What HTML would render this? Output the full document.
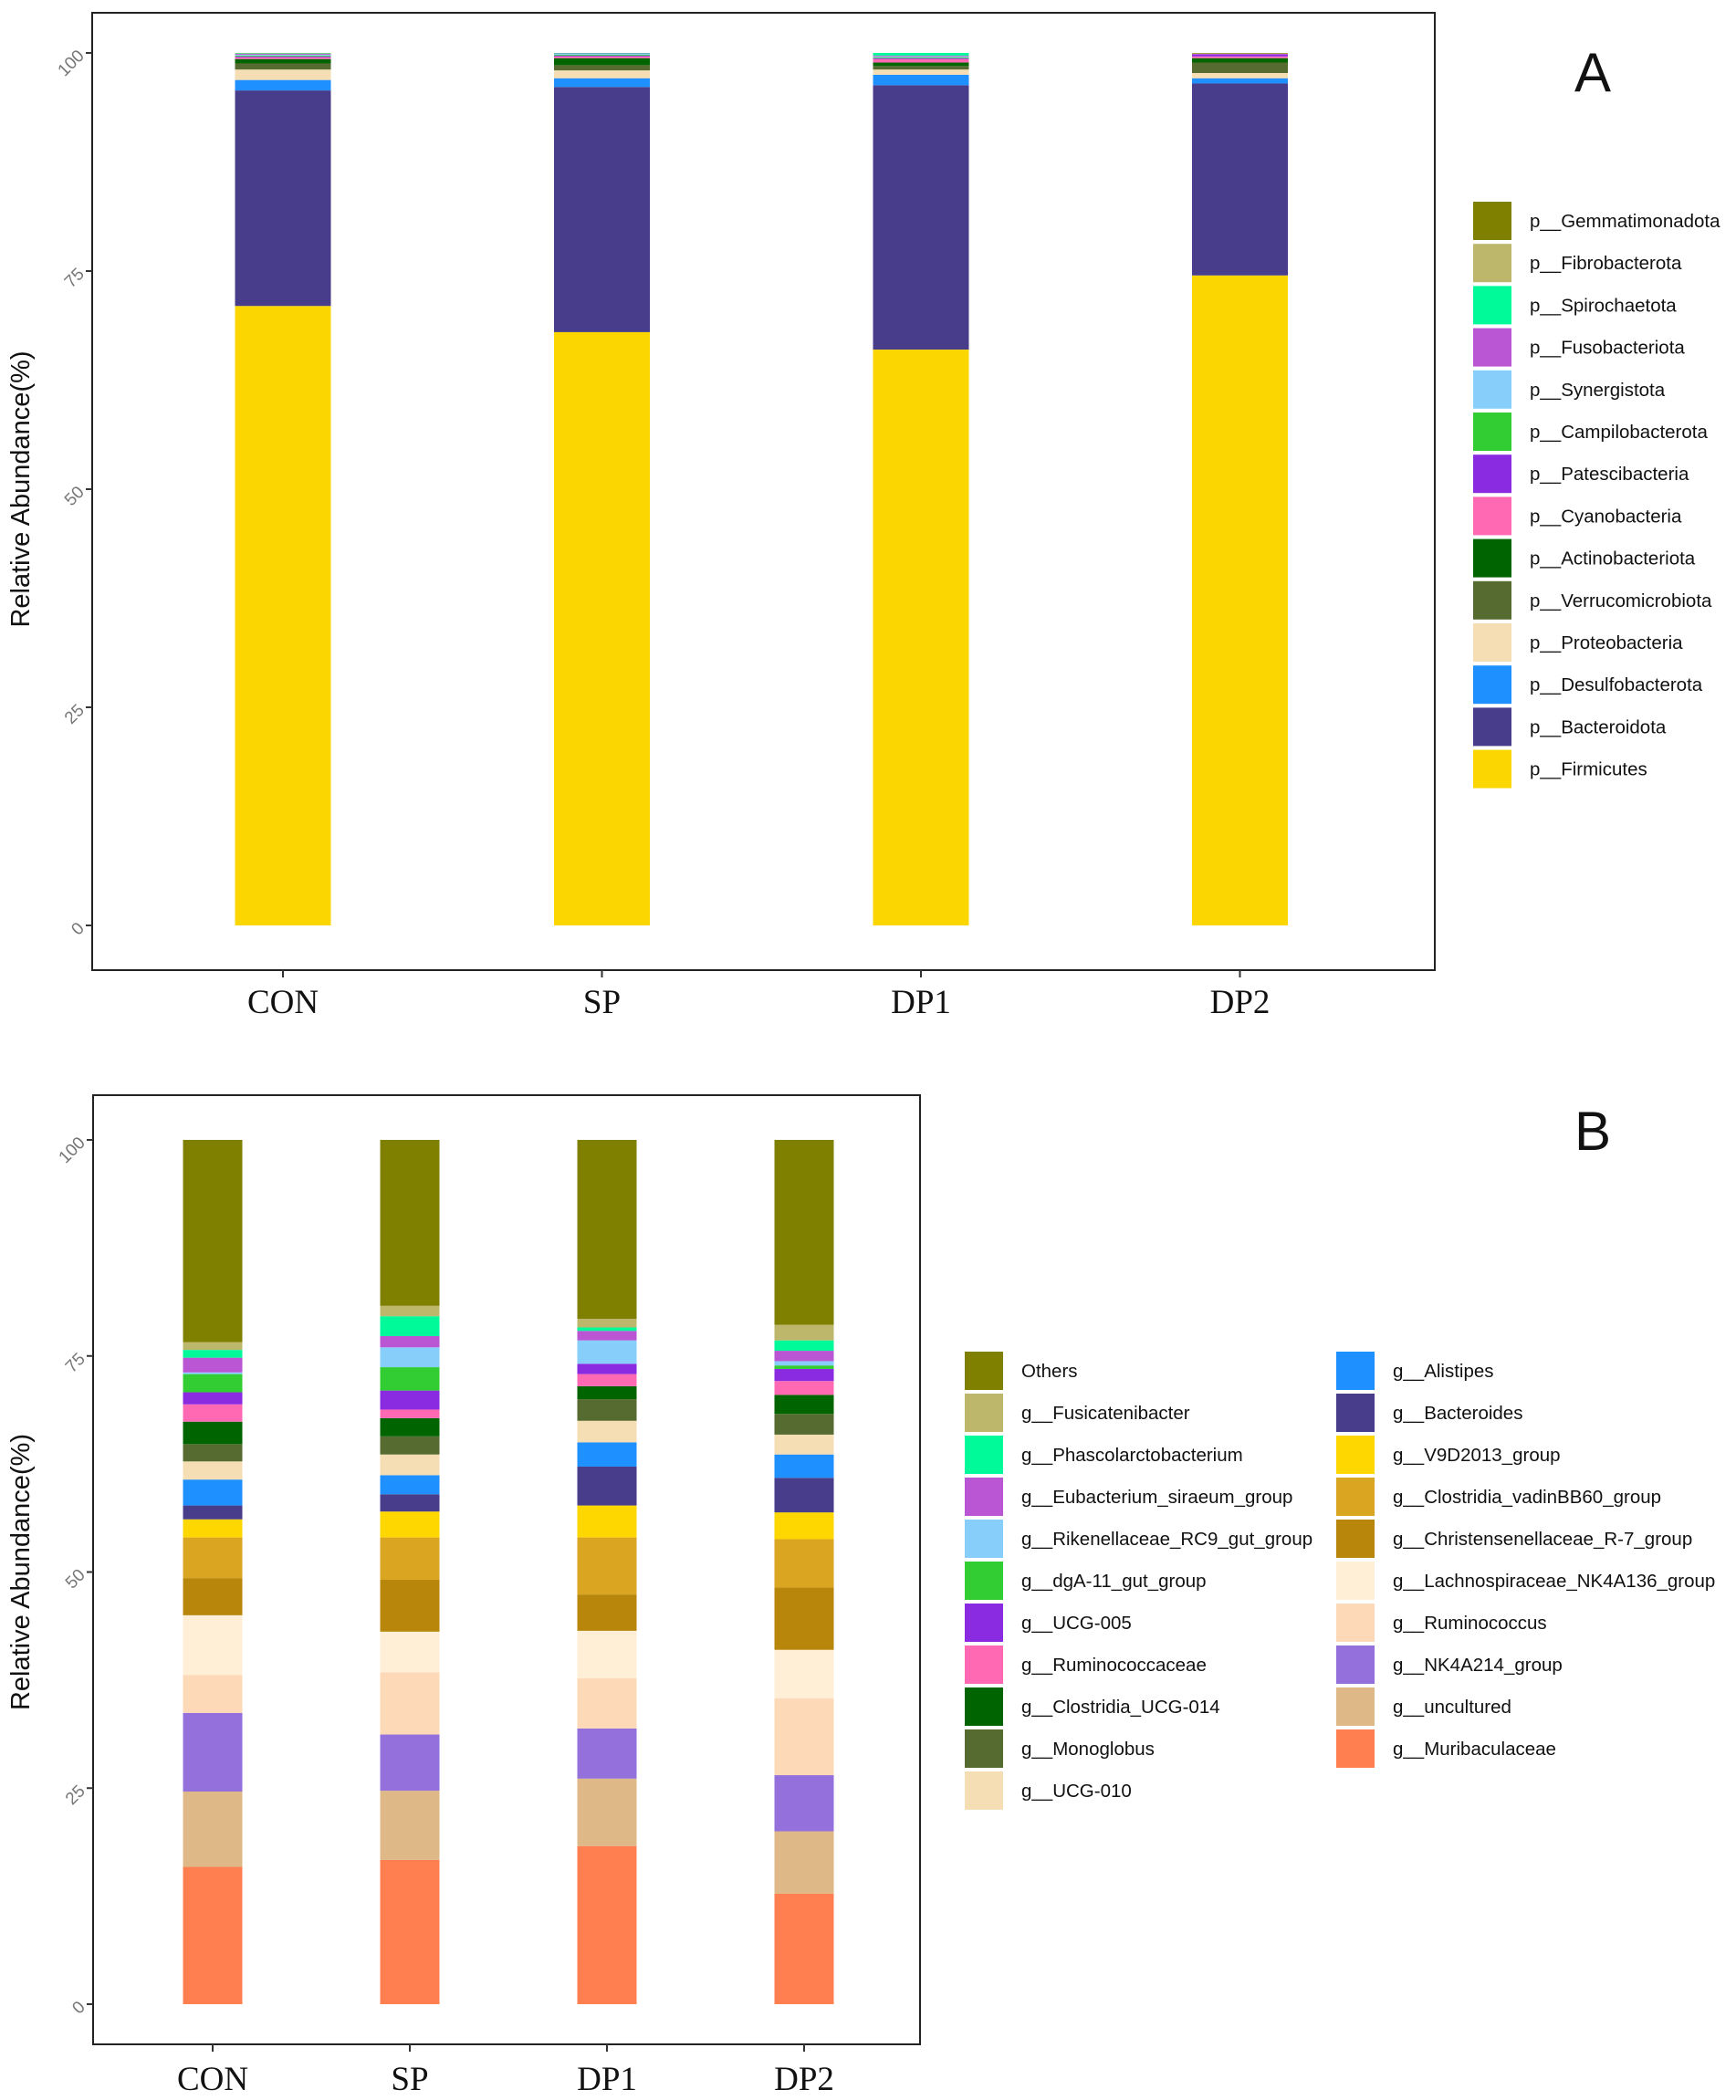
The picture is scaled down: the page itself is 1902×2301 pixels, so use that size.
<!DOCTYPE html>
<html><head><meta charset="utf-8"><style>
html,body{margin:0;padding:0;background:#fff;}
svg{display:block;}
</style></head><body>
<svg id="chart" width="1902" height="2301" xmlns="http://www.w3.org/2000/svg" font-family="Liberation Sans, sans-serif"></svg>
<script>
const groups = ["CON","SP","DP1","DP2"];
const phylaNames = ["p__Firmicutes","p__Bacteroidota","p__Desulfobacterota","p__Proteobacteria","p__Verrucomicrobiota","p__Actinobacteriota","p__Cyanobacteria","p__Patescibacteria","p__Campilobacterota","p__Synergistota","p__Fusobacteriota","p__Spirochaetota","p__Fibrobacterota","p__Gemmatimonadota"];
const phylaColors = ["#FCD600","#483D8B","#1E90FF","#F5DEB3","#556B2F","#006400","#FF69B4","#8A2BE2","#32CD32","#87CEFA","#BA55D3","#00FA9A","#BDB76B","#808000"];
const phylaCON = [71.0,24.7,1.2,1.2,0.7,0.5,0.2,0.1,0.1,0.1,0.1,0.05,0.03,0.02];
const phylaSP  = [68.0,28.1,1.0,0.9,0.6,0.8,0.2,0.1,0.1,0.1,0.05,0.05,0.0,0.0];
const phylaDP1 = [66.0,30.3,1.2,0.6,0.4,0.4,0.4,0.1,0.1,0.1,0.1,0.3,0.0,0.0];
const phylaDP2 = [74.5,22.0,0.6,0.6,1.2,0.5,0.2,0.2,0.0,0.0,0.1,0.0,0.05,0.05];
const phylaData = [phylaCON,phylaSP,phylaDP1,phylaDP2];

const genusNames = ["g__Muribaculaceae","g__uncultured","g__NK4A214_group","g__Ruminococcus","g__Lachnospiraceae_NK4A136_group","g__Christensenellaceae_R-7_group","g__Clostridia_vadinBB60_group","g__V9D2013_group","g__Bacteroides","g__Alistipes","g__UCG-010","g__Monoglobus","g__Clostridia_UCG-014","g__Ruminococcaceae","g__UCG-005","g__dgA-11_gut_group","g__Rikenellaceae_RC9_gut_group","g__Eubacterium_siraeum_group","g__Phascolarctobacterium","g__Fusicatenibacter","Others"];
const genusColors = ["#FF7F50","#DEB887","#9370DB","#FDD9B7","#FEEFD6","#B8860B","#DAA520","#FFD700","#483D8B","#1E90FF","#F5DEB3","#556B2F","#006400","#FF69B4","#8A2BE2","#32CD32","#87CEFA","#BA55D3","#00FA9A","#BDB76B","#808000"];
const genusCON = [15.9,8.7,9.1,4.4,6.9,4.3,4.7,2.1,1.6,3.0,2.1,2.0,2.6,2.0,1.4,2.1,0.2,1.7,0.9,0.9,23.4];
const genusSP  = [16.7,8.0,6.5,7.2,4.7,6.0,4.9,3.0,2.0,2.2,2.4,2.1,2.1,1.0,2.2,2.7,2.3,1.3,2.3,1.2,19.2];
const genusDP1 = [18.3,7.8,5.8,5.8,5.5,4.2,6.6,3.7,4.5,2.8,2.5,2.5,1.5,1.4,1.2,0.0,2.7,1.1,0.4,1.0,20.7];
const genusDP2 = [12.8,7.2,6.5,8.9,5.6,7.2,5.6,3.1,4.0,2.7,2.3,2.4,2.2,1.6,1.4,0.4,0.5,1.2,1.2,1.8,21.4];
const genusData = [genusCON,genusSP,genusDP1,genusDP2];
const yTicks = [0,25,50,75,100];

const NS="http://www.w3.org/2000/svg";
const svg=document.getElementById('chart');
function mk(tag,attrs,parent,text){const e=document.createElementNS(NS,tag);for(const k in attrs)e.setAttribute(k,attrs[k]);if(text!==undefined)e.textContent=text;(parent||svg).appendChild(e);return e;}

function panel(cfg){
  const g=mk('g',{});
  
  
  const y=v=>cfg.y0+(cfg.y100-cfg.y0)*v/100;
  const x=i=>cfg.xc[0]+i*cfg.step;
  const fr=mk('rect',{x:cfg.box[0],y:cfg.box[1],width:cfg.box[2]-cfg.box[0],height:cfg.box[3]-cfg.box[1],fill:'none',stroke:'#222','stroke-width':2},g);
  
  
  cfg.data.forEach((vals,gi)=>{
    let acc=0;
    vals.forEach((v,si)=>{
      if(v<=0)return;
      const r=mk('rect',{x:x(gi)-cfg.bw/2,y:y(acc+v),width:cfg.bw,height:y(acc)-y(acc+v),fill:cfg.colors[si]},g);
      
      
      acc+=v;
    });
  });
  yTicks.forEach(t=>{
    const tk=mk('line',{x1:cfg.box[0]-7,x2:cfg.box[0],y1:y(t),y2:y(t),stroke:'#333','stroke-width':2},g);
    
    
    const lb=mk('text',{x:cfg.box[0]-12,y:y(t)+6,'text-anchor':'end','font-size':19,fill:'#777',transform:`rotate(-45 ${cfg.box[0]-12} ${y(t)})`},g,String(t));
    
    
  });
  groups.forEach((n,i)=>{
    const tk=mk('line',{x1:x(i),x2:x(i),y1:cfg.box[3],y2:cfg.box[3]+8,stroke:'#333','stroke-width':2},g);
    
    
    const lb=mk('text',{x:x(i),y:cfg.labelY,'text-anchor':'middle','font-size':37,'font-family':'Liberation Serif, serif',fill:'#111'},g,n);
    
    
  });
  const yt=mk('text',{x:32,y:(cfg.y0+cfg.y100)/2,'text-anchor':'middle','font-size':29,fill:'#111',transform:`rotate(-90 32 ${(cfg.y0+cfg.y100)/2})`},g,'Relative Abundance(%)');
  
  
  const pl=mk('text',{x:1745,y:cfg.letterY,'text-anchor':'middle','font-size':60,fill:'#111'},g,cfg.letter);
  
  
  cfg.legend.forEach(it=>{
    const le=mk('g',{},g);
    
    
    mk('rect',{x:it.x,y:it.y,width:42,height:42,fill:cfg.colors[it.idx]},le);
    mk('text',{x:it.x+62,y:it.y+28,'font-size':20.5,fill:'#111'},le,cfg.names[it.idx]);
  });
}

const legA=[];
for(let k=0;k<14;k++)legA.push({idx:13-k,x:1614,y:221+k*46.2});
panel({name:'panel-a-phylum',box:[101,14,1572,1063],y0:1014,y100:58,xc:[310],step:349.5,bw:105,data:phylaData,colors:phylaColors,names:phylaNames,labelY:1110,letter:'A',letterY:100,legend:legA});

const legB=[];
const col1=[20,19,18,17,16,15,14,13,12,11,10];
const col2=[9,8,7,6,5,4,3,2,1,0];
col1.forEach((idx,k)=>legB.push({idx,x:1057,y:1481+k*46}));
col2.forEach((idx,k)=>legB.push({idx,x:1464,y:1481+k*46}));
panel({name:'panel-b-genus',box:[102,1200,1008,2240],y0:2196,y100:1249,xc:[233],step:216,bw:65,data:genusData,colors:genusColors,names:genusNames,labelY:2290,letter:'B',letterY:1260,legend:legB});
</script>
</body></html>
